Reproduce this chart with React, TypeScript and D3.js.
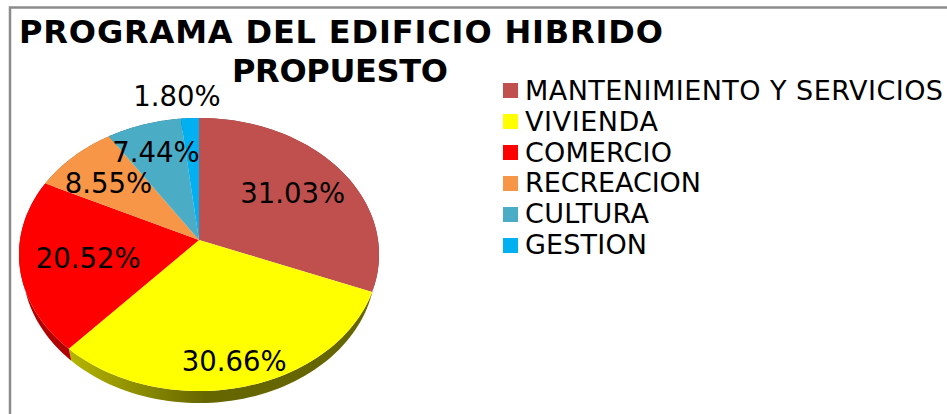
import React from "react";
import * as d3 from "d3";

const titleLines = ["PROGRAMA DEL EDIFICIO HIBRIDO", "PROPUESTO"];
const titleWidths = [644, 216];
const categories = ["MANTENIMIENTO Y SERVICIOS", "VIVIENDA", "COMERCIO", "RECREACION", "CULTURA", "GESTION"];
const legendWidths = [418, 133, 147, 176, 124, 122];
const values = [31.03, 30.66, 20.52, 8.55, 7.44, 1.8];
const colors = ["#c0504d", "#ffff00", "#ff0000", "#f79646", "#4bacc6", "#00b0f0"];
const sideColors = ["#7a3331", "url(#yellowSide)", "#b00000", "#a06030", "#307080", "#007090"];
const labelNudges: [number, number][] = [[1, 0], [7, 29], [5, 1], [-7, -2], [-6, -11], [-16, -62]];

const W = 947, H = 414;
const CX = 199, CY = 240, R = 179, B = 135, K = 0.1062, DEPTH = 12, SIDE_SHRINK = 0.98;
const FONT = "'DejaVu Sans', Verdana, sans-serif";

const project = (a: number, f = 1): [number, number] => {
  const w = 1 + K * f * Math.cos(a);
  return [CX + (R * f * Math.sin(a)) / w, CY - (B * f * Math.cos(a)) / w];
};

const arcs = d3.pie<number>().sort(null)(values);
const line = d3.line<[number, number]>();

const rimPoints = (s: number, e: number) =>
  d3.range(0, 61).map((i) => project(s + ((e - s) * i) / 60));

export default function App() {
  return (
    <svg width={W} height={H} style={{ position: "absolute", left: 0, top: 0, background: "#fff" }}>
      <defs>
        <linearGradient id="yellowSide" gradientUnits="userSpaceOnUse" x1={70} x2={372} y1={0} y2={0}>
          <stop offset="0" stopColor="#b4b400" />
          <stop offset="0.45" stopColor="#666600" />
          <stop offset="1" stopColor="#666600" />
        </linearGradient>
      </defs>
      <path d={`M${W},7.5H10V${H}`} fill="none" stroke="#8c8c8c" strokeWidth={2.5} />
      {arcs.map((a, i) => {
        const rim = rimPoints(a.startAngle, a.endAngle);
        const side = [
          ...rim,
          ...rim.slice().reverse().map(([x, y]) => [CX + (x - CX) * SIDE_SHRINK, y + DEPTH] as [number, number]),
        ];
        return <path key={i} d={line(side) + "Z"} fill={sideColors[i]} />;
      })}
      {arcs.map((a, i) => (
        <path key={i} d={line([[CX, CY], ...rimPoints(a.startAngle, a.endAngle)]) + "Z"} fill={colors[i]} />
      ))}
      {arcs.map((a, i) => {
        const [x, y] = project((a.startAngle + a.endAngle) / 2, 0.65);
        return (
          <text key={i} x={x + labelNudges[i][0]} y={y + labelNudges[i][1]} dy="0.37em" textAnchor="middle"
            fontFamily={FONT} fontSize={27.5} fill="#000">
            {values[i].toFixed(2)}%
          </text>
        );
      })}
      {titleLines.map((t, i) => (
        <text key={t} x={341 - titleWidths[i] / 2 - (i ? 1 : 0)} y={43 + i * 39} textLength={titleWidths[i]} lengthAdjust="spacing"
          fontFamily={FONT} fontWeight="bold" fontSize={32}>
          {t}
        </text>
      ))}
      {categories.map((c, i) => (
        <g key={c}>
          <rect x={503} y={83 + i * 31} width={15} height={15} fill={colors[i]} />
          <text x={525} y={100 + i * 30.8} textLength={legendWidths[i]} lengthAdjust="spacing" fontFamily={FONT} fontSize={27}>{c}</text>
        </g>
      ))}
    </svg>
  );
}
